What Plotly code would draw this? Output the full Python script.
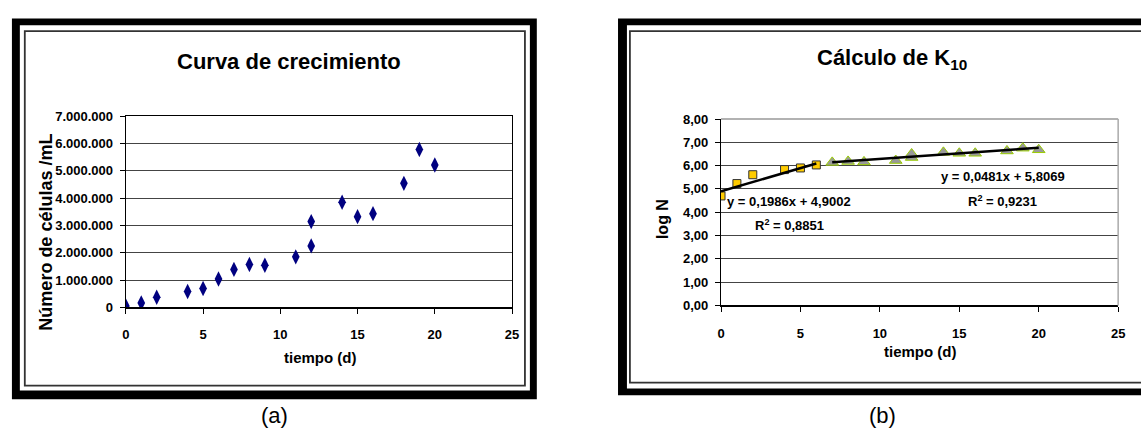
import plotly.graph_objects as go

# ---------------- data ----------------
dias_a = [0, 1, 2, 4, 5, 6, 7, 8, 9, 11, 12, 12, 14, 15, 16, 18, 19, 20]
celulas = [50000, 160000, 370000, 580000, 690000, 1040000, 1390000, 1570000,
           1540000, 1850000, 2250000, 3140000, 3850000, 3320000, 3430000,
           4540000, 5780000, 5210000]

dias_f1 = [0, 1, 2, 4, 5, 6]
logN_f1 = [4.70, 5.23, 5.61, 5.83, 5.90, 6.03]
dias_f2 = [7, 8, 9, 11, 12, 12, 14, 15, 16, 18, 19, 20]
logN_f2 = [6.14, 6.18, 6.16, 6.22, 6.35, 6.50, 6.57, 6.53, 6.53, 6.63, 6.75, 6.68]

pend_f1, ord_f1 = 0.1986, 4.9002
pend_f2, ord_f2 = 0.0481, 5.8069

eq_f1 = "y = 0,1986x + 4,9002"
r2_f1 = "R<sup>2</sup> = 0,8851"
eq_f2 = "y = 0,0481x + 5,8069"
r2_f2 = "R<sup>2</sup> = 0,9231"

W, H = 1141, 439
def px(p):
    return p / W
def py(p):
    return 1 - p / H

ARIAL = "Liberation Sans, Arial, sans-serif"

fig = go.Figure()

# panel a
fig.add_trace(go.Scatter(x=dias_a, y=celulas, mode="markers",
                         marker=dict(symbol="diamond-tall", size=11, color="#000080",
                                     line=dict(width=0)),
                         xaxis="x", yaxis="y", showlegend=False))

# panel b markers
fig.add_trace(go.Scatter(x=dias_f1, y=logN_f1, mode="markers",
                         marker=dict(symbol="square", size=8, color="#FFCC00",
                                     line=dict(width=1, color="#333333")),
                         xaxis="x2", yaxis="y2", showlegend=False))
fig.add_trace(go.Scatter(x=dias_f2, y=logN_f2, mode="markers",
                         marker=dict(symbol="triangle-up", size=11, color="#999999",
                                     line=dict(width=1, color="#99CC00")),
                         xaxis="x2", yaxis="y2", showlegend=False))

# trendlines
tx1 = [min(dias_f1), max(dias_f1)]
tx2 = [min(dias_f2), max(dias_f2)]
fig.add_trace(go.Scatter(x=tx1, y=[pend_f1 * t + ord_f1 for t in tx1], mode="lines",
                         line=dict(color="black", width=2.5),
                         xaxis="x2", yaxis="y2", showlegend=False))
fig.add_trace(go.Scatter(x=tx2, y=[pend_f2 * t + ord_f2 for t in tx2], mode="lines",
                         line=dict(color="black", width=2.5),
                         xaxis="x2", yaxis="y2", showlegend=False))

tickfont = dict(family=ARIAL, size=13, color="black", weight="bold")

shapes = []
def frame(x0, y0, x1, y1, th_l, th_t, th_r, th_b, ix0, iy0, ix1, iy1):
    shapes.append(dict(type="rect", xref="paper", yref="paper", layer="below",
                       x0=px(x0), x1=px(x1), y0=py(y1), y1=py(y0),
                       fillcolor="black", line=dict(width=0)))
    shapes.append(dict(type="rect", xref="paper", yref="paper", layer="below",
                       x0=px(x0 + th_l), x1=px(x1 - th_r), y0=py(y1 - th_b), y1=py(y0 + th_t),
                       fillcolor="white", line=dict(width=0)))
    shapes.append(dict(type="rect", xref="paper", yref="paper", layer="below",
                       x0=px(ix0), x1=px(ix1), y0=py(iy1), y1=py(iy0),
                       fillcolor="rgba(0,0,0,0)", line=dict(width=1.8, color="#333333")))

frame(8, 12, 538, 406, 8, 7, 7, 9, 21, 25, 526, 392)
frame(620, 12, 1170, 402, 9, 7, 7, 7, 632, 25, 1160, 389)

# panel b top/right light border
shapes.append(dict(type="line", xref="x2 domain", yref="y2 domain", x0=0, x1=1, y0=1, y1=1,
                   line=dict(color="#999999", width=1.5)))
shapes.append(dict(type="line", xref="x2 domain", yref="y2 domain", x0=1, x1=1, y0=0, y1=1,
                   line=dict(color="#aaaaaa", width=1.5)))

annotations = [
    dict(text="Curva de crecimiento", x=px(288), y=py(56), xref="paper", yref="paper",
         showarrow=False, xanchor="center", yanchor="middle",
         font=dict(family=ARIAL, size=22, color="black", weight="bold")),
    dict(text="Cálculo de K<sub>10</sub>", x=px(897), y=py(54), xref="paper", yref="paper",
         showarrow=False, xanchor="center", yanchor="middle",
         font=dict(family=ARIAL, size=22, color="black", weight="bold")),
    dict(text="Número de células /mL", x=px(42), y=py(233), xref="paper", yref="paper",
         showarrow=False, xanchor="center", yanchor="middle", textangle=-90,
         font=dict(family=ARIAL, size=18, color="black", weight="bold")),
    dict(text="tiempo (d)", x=px(320), y=py(363), xref="paper", yref="paper",
         showarrow=False, xanchor="center", yanchor="middle",
         font=dict(family=ARIAL, size=15, color="black", weight="bold")),
    dict(text="log N", x=px(665), y=py(220), xref="paper", yref="paper",
         showarrow=False, xanchor="center", yanchor="middle", textangle=-90,
         font=dict(family=ARIAL, size=16, color="black", weight="bold")),
    dict(text="tiempo (d)", x=px(925), y=py(357), xref="paper", yref="paper",
         showarrow=False, xanchor="center", yanchor="middle",
         font=dict(family=ARIAL, size=15, color="black", weight="bold")),
    dict(text=eq_f1, x=px(793), y=py(201), xref="paper", yref="paper",
         showarrow=False, xanchor="center", yanchor="middle", font=tickfont),
    dict(text=r2_f1, x=px(793), y=py(226), xref="paper", yref="paper",
         showarrow=False, xanchor="center", yanchor="middle", font=tickfont),
    dict(text=eq_f2, x=px(1009), y=py(176), xref="paper", yref="paper",
         showarrow=False, xanchor="center", yanchor="middle", font=tickfont),
    dict(text=r2_f2, x=px(1008), y=py(201), xref="paper", yref="paper",
         showarrow=False, xanchor="center", yanchor="middle", font=tickfont),
    dict(text="(a)", x=px(273), y=py(423), xref="paper", yref="paper",
         showarrow=False, xanchor="center", yanchor="middle",
         font=dict(family=ARIAL, size=22, color="black")),
    dict(text="(b)", x=px(887), y=py(423), xref="paper", yref="paper",
         showarrow=False, xanchor="center", yanchor="middle",
         font=dict(family=ARIAL, size=22, color="black")),
]

xcommon = dict(range=[0, 25], dtick=5, tick0=0, showgrid=False, zeroline=False,
               showline=True, linecolor="black", linewidth=1.5,
               ticks="outside", ticklen=5, tickcolor="black", tickwidth=1,
               tickfont=tickfont, ticklabelstandoff=10, fixedrange=True)

fig.update_layout(
    width=W, height=H, margin=dict(l=0, r=0, t=0, b=0),
    paper_bgcolor="white", plot_bgcolor="rgba(0,0,0,0)",
    separators=",.",
    showlegend=False,
    hovermode=False,
    xaxis=dict(domain=[px(123), px(513)], anchor="y", mirror=True, **xcommon),
    yaxis=dict(domain=[py(311), py(113)], anchor="x", range=[0, 7000000], dtick=1000000,
               tickformat=",d", showgrid=True, gridcolor="#444444", gridwidth=1,
               zeroline=False, showline=True, linecolor="black", linewidth=1.2, mirror=True,
               ticks="outside", ticklen=5, tickcolor="black", tickfont=tickfont,
               ticklabelstandoff=4, fixedrange=True),
    xaxis2=dict(domain=[px(724), px(1125)], anchor="y2", **xcommon),
    yaxis2=dict(domain=[py(309), py(116)], anchor="x2", range=[0, 8], dtick=1,
                tickformat=".2f", showgrid=True, gridcolor="#444444", gridwidth=1,
                zeroline=False, showline=True, linecolor="black", linewidth=1.2,
                ticks="outside", ticklen=5, tickcolor="black", tickfont=tickfont,
                ticklabelstandoff=4, fixedrange=True),
    shapes=shapes,
    annotations=annotations,
)

post = ("document.body.style.margin='0';document.body.style.padding='0';"
        "document.body.style.overflow='hidden';"
        "var gd=document.getElementById('{plot_id}');"
        "gd.style.position='absolute';gd.style.left='0px';gd.style.top='0px';")

fig.write_html("out.html", config={"displayModeBar": False, "staticPlot": True},
               post_script=post)
